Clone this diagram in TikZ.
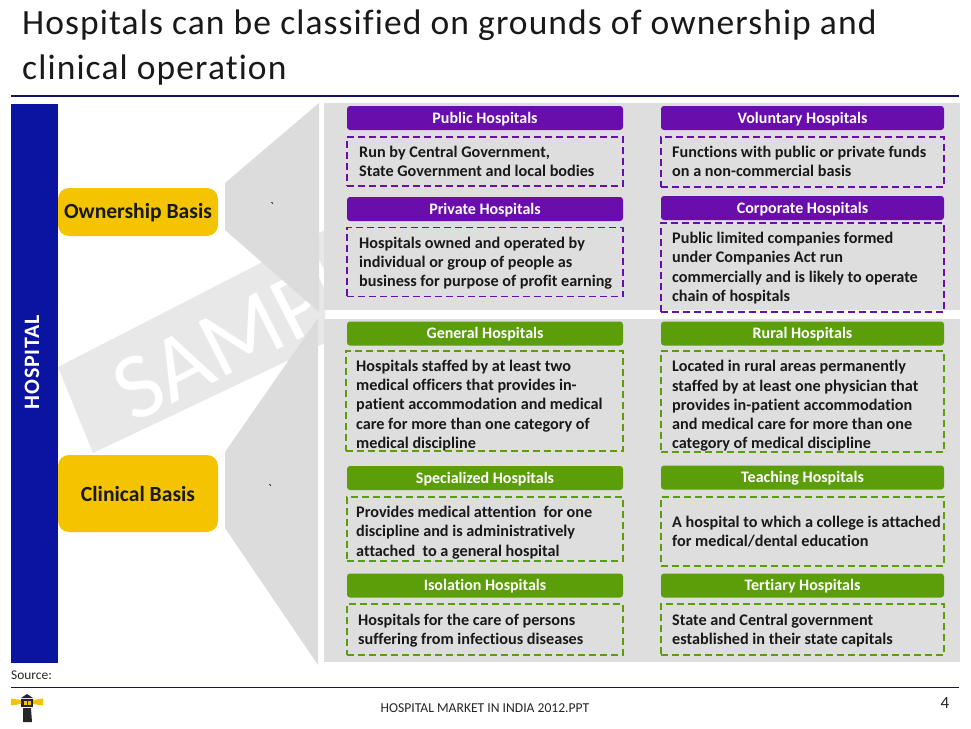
\documentclass[tikz,border=0pt]{standalone}
\usepackage{fontspec}
\setmainfont[Ligatures={NoCommon,NoRequired,NoContextual}]{Carlito}
\newfontfamily\titlefont[LetterSpace=3.1,Ligatures={NoCommon,NoRequired,NoContextual}]{Carlito}
\newfontfamily\spacedbold[LetterSpace=3.6,BoldFont={Carlito Bold}]{Carlito}
\definecolor{navyline}{HTML}{14145C}
\definecolor{barblue}{HTML}{0A14A0}
\definecolor{gold}{HTML}{F5C400}
\definecolor{purp}{HTML}{6A0DAD}
\definecolor{grn}{HTML}{5C9E0A}
\definecolor{panel}{HTML}{DEDEDE}
\definecolor{funnel}{HTML}{DCDCDC}
\definecolor{band}{HTML}{E8E8E8}
\tikzset{
 head/.style={rounded corners=3pt,minimum height=24pt,inner sep=0pt,text height=10.5pt,text depth=0pt,text=white,font=\fontsize{16}{19}\selectfont\bfseries},
 phead/.style={head,fill=purp},
 ghead/.style={head,fill=grn},
 note/.style={dash pattern=on 7pt off 4pt,line width=1.6pt,inner sep=0pt},
 pnote/.style={note,draw=purp},
 gnote/.style={note,draw=grn},
 notetext/.style={inner sep=0pt,align=left,anchor=west,font=\fontsize{16.2}{19.2}\selectfont\bfseries,text=black!90},
 basis/.style={fill=gold,rounded corners=11pt,inner sep=0pt,text depth=0pt,font=\fontsize{21.6}{25}\selectfont\bfseries,text=black!90},
}
\begin{document}
\begin{tikzpicture}[x=1pt,y=-1pt]
\useasboundingbox (0,0) rectangle (971,728);
\fill[white] (0,0) rectangle (971,728);
% title
\node[anchor=west,inner sep=0pt,font=\fontsize{35.5}{45}\selectfont\titlefont,text=black!90,align=left] (title) at (22,48) {Hospitals can be classified on grounds of ownership and\\clinical operation};
\draw[navyline,line width=2.2pt] (11,96) coordinate (tl) -- (959,96) coordinate (tr);
% watermark
\fill[band] (58,367) -- (325,230) -- (325,343) -- (93,453) -- cycle;
\node[rotate=27,anchor=base west,inner sep=0pt,text=white,font=\fontsize{94}{94}\selectfont] (wm) at (133,424) {SAMPLE};
% funnels
\fill[funnel] (225,183) -- (319,103) -- (319,312) -- (225,230) -- cycle;
\fill[funnel] (225,452) -- (318,318) -- (318,665) -- (225,528) -- cycle;
% panels
\fill[panel] (324,103) rectangle (960,310);
\fill[panel] (324,319) rectangle (960,662);
% left bar
\fill[barblue] (11,104) rectangle (58,663);
\node[rotate=90,text=white,inner sep=0pt,font=\fontsize{22}{25}\selectfont\spacedbold\bfseries] (hosp) at (32,362) {HOSPITAL};
% basis
\node[basis,text height=12pt,minimum width=160pt,minimum height=48pt] (own) at (138,212) {Ownership Basis};
\node[basis,text height=16pt,minimum width=160pt,minimum height=77pt] (clin) at (138,493.5) {Clinical Basis};
\node[inner sep=0pt,font=\fontsize{13}{13}\selectfont] (t1) at (272,207) {\textasciigrave};
\node[inner sep=0pt,font=\fontsize{13}{13}\selectfont] (t2) at (270,489) {\textasciigrave};
% purple left
\node[phead,minimum width=276pt] (pub) at (485,118) {Public Hospitals};
\node[pnote,minimum width=276pt,minimum height=49pt] (pubb) at (485,161.5) {};
\node[notetext] (pubn) at (359,161.5) {Run by Central Government,\\State Government and local bodies};
\node[phead,minimum width=276pt] (pri) at (485,209) {Private Hospitals};
\node[pnote,minimum width=276pt,minimum height=69pt] (prib) at (485,262) {};
\node[notetext] (prin) at (359,263) {Hospitals owned and operated by\\individual or group of people as\\business for purpose of profit earning};
% purple right
\node[phead,minimum width=283pt] (vol) at (802.5,118) {Voluntary Hospitals};
\node[pnote,minimum width=283pt,minimum height=50pt] (volb) at (802.5,162) {};
\node[notetext] (voln) at (672,161.5) {Functions with public or private funds\\on a non-commercial basis};
\node[phead,minimum width=283pt] (cor) at (802.5,208) {Corporate Hospitals};
\node[pnote,minimum width=283pt,minimum height=89pt] (corb) at (802.5,267.5) {};
\node[notetext] (corn) at (672,268) {Public limited companies formed\\under Companies Act run\\commercially and is likely to operate\\chain of hospitals};
% green left
\node[ghead,minimum width=276pt] (gen) at (485,333.5) {General Hospitals};
\node[gnote,minimum width=277pt,minimum height=100pt] (genb) at (484.5,401) {};
\node[notetext] (genn) at (356,405.5) {Hospitals staffed by at least two\\medical officers that provides in-\\patient accommodation and medical\\care for more than one category of\\medical discipline};
\node[ghead,minimum width=276pt] (spe) at (485,478) {Specialized Hospitals};
\node[gnote,minimum width=276pt,minimum height=64pt] (speb) at (485,529) {};
\node[notetext] (spen) at (356,532.5) {Provides medical attention~ for one\\discipline and is administratively\\attached~ to a general hospital};
\node[ghead,minimum width=276pt] (iso) at (485,585.5) {Isolation Hospitals};
\node[gnote,minimum width=276pt,minimum height=51pt] (isob) at (485,629.5) {};
\node[notetext] (ison) at (358,630.5) {Hospitals for the care of persons\\suffering from infectious diseases};
% green right
\node[ghead,minimum width=283pt] (rur) at (802.5,333.5) {Rural Hospitals};
\node[gnote,minimum width=283pt,minimum height=101pt] (rurb) at (802.5,401.5) {};
\node[notetext] (rurn) at (672,406) {Located in rural areas permanently\\staffed by at least one physician that\\provides in-patient accommodation\\and medical care for more than one\\category of medical discipline};
\node[ghead,minimum width=283pt] (tea) at (802.5,477.5) {Teaching Hospitals};
\node[gnote,minimum width=283pt,minimum height=69pt] (teab) at (802.5,531.5) {};
\node[notetext] (tean) at (672,531.5) {A hospital to which a college is attached\\for medical/dental education};
\node[ghead,minimum width=283pt] (ter) at (802.5,585.5) {Tertiary Hospitals};
\node[gnote,minimum width=283pt,minimum height=51pt] (terb) at (802.5,629.5) {};
\node[notetext] (tern) at (672,630.5) {State and Central government\\established in their state capitals};
% footer
\node[anchor=west,inner sep=0pt,font=\fontsize{13.4}{15}\selectfont,text=black!85] (src) at (11,675) {Source:};
\draw[navyline,line width=1.8pt] (11,687.5) coordinate (bl) -- (959,687.5) coordinate (br);
\node[inner sep=0pt,font=\fontsize{13.6}{15}\selectfont,text=black!85] (foot) at (485,708) {HOSPITAL MARKET IN INDIA 2012.PPT};
\node[inner sep=0pt,font=\fontsize{17}{20}\selectfont,text=black!85] (pg) at (945,703) {4};
% lighthouse
\fill[gold] (11,698.5) -- (21,700) -- (21,704) -- (11,705.5) -- cycle;
\fill[gold] (43,698.5) -- (33,700) -- (33,704) -- (43,705.5) -- cycle;
\fill[black!85] (27,694) -- (33,698) -- (21,698) -- cycle;
\fill[black!85] (21,699) rectangle (33,707);
\fill[gold] (23.5,701) rectangle (26.5,705);
\fill[gold] (27.5,701) rectangle (30.5,705);
\fill[black!85] (23,708) -- (31,708) -- (32,722) -- (23,722) -- cycle;
\end{tikzpicture}
\end{document}
